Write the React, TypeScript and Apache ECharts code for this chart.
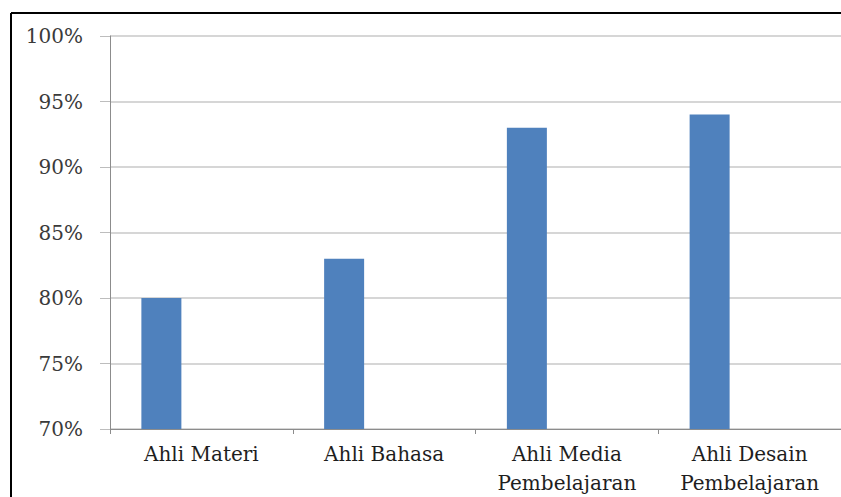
import React, { useEffect, useRef } from "react";
import * as echarts from "echarts";

const categories = ["Ahli Materi", "Ahli Bahasa", "Ahli Media\nPembelajaran", "Ahli Desain\nPembelajaran"];
const values = [80, 83, 93, 94];
const yMin = 70;
const yMax = 100;
const yStep = 5;

export default function App() {
  const ref = useRef<HTMLDivElement>(null);
  useEffect(() => {
    document.body.style.margin = "0";
    const chart = echarts.init(ref.current!, null, { renderer: "svg" });
    chart.setOption({
      animation: false,
      backgroundColor: "#ffffff",
      grid: { left: 110, top: 36, right: 0, bottom: 60, containLabel: false },
      graphic: [
        { type: "line", shape: { x1: 11, y1: 13, x2: 841, y2: 13 }, style: { stroke: "#000", lineWidth: 2 } },
        { type: "line", shape: { x1: 11, y1: 13, x2: 11, y2: 497 }, style: { stroke: "#000", lineWidth: 2 } },
      ],
      xAxis: {
        type: "category",
        data: categories,
        axisLine: { lineStyle: { color: "#8c8c8c", width: 1 } },
        axisTick: { show: true, length: 5, lineStyle: { color: "#8c8c8c" } },
        axisLabel: {
          fontFamily: "DejaVu Serif",
          fontSize: 20,
          color: "#1e1e1e",
          margin: 10,
          lineHeight: 29,
        },
      },
      yAxis: {
        type: "value",
        min: yMin,
        max: yMax,
        interval: yStep,
        axisLine: { show: true, lineStyle: { color: "#8c8c8c", width: 1 } },
        axisTick: { show: true, length: 10, lineStyle: { color: "#bdbdbd" } },
        splitLine: { lineStyle: { color: "#c8c8c8", width: 1.5 } },
        axisLabel: {
          fontFamily: "DejaVu Serif",
          fontSize: 20,
          color: "#3a3a3a",
          margin: 27,
          formatter: "{value}%",
        },
      },
      series: [
        { type: "bar", data: values, barWidth: 40, barGap: "0%", itemStyle: { color: "#4f81bd" } },
        { type: "bar", data: values.map(() => null), barWidth: 40, barGap: "0%" },
        { type: "bar", data: values.map(() => null), barWidth: 40, barGap: "0%" },
      ],
    });
    return () => chart.dispose();
  }, []);
  return <div ref={ref} style={{ width: 841, height: 497 }} />;
}
